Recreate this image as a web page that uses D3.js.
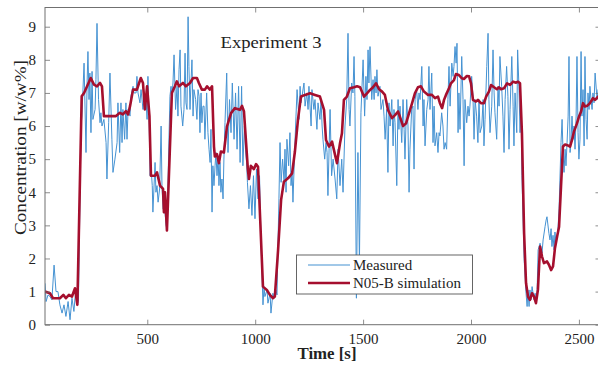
<!DOCTYPE html>
<html>
<head>
<meta charset="utf-8">
<script src="https://cdn.jsdelivr.net/npm/d3@7"></script>
<style>
  html, body { margin: 0; padding: 0; background: #fff; }
  svg { display: block; }
  text { font-family: "Liberation Serif", "DejaVu Serif", serif; fill: #222; }
</style>
</head>
<body>
<svg id="chart" width="598" height="367"></svg>
<script>
// ---- data ----
const measuredTime = [26,31,40,49,58,68,77,86,95,105,114,123,133,142,151,160,165,170,174,181,193,197,207,216,221,225,230,234,239,244,248,258,262,267,274,281,285,290,299,309,313,321,327,336,341,350,360,364,372,378,383,387,395,401,406,411,420,424,434,438,448,452,457,466,471,480,485,494,499,503,508,513,517,523,526,536,540,545,550,557,564,568,573,582,587,591,605,610,614,619,624,631,638,642,647,652,656,664,670,675,679,684,689,693,698,703,707,712,716,724,730,735,740,744,749,753,758,763,767,775,781,786,791,795,800,804,809,814,818,823,828,832,837,841,846,851,855,860,868,874,881,888,894,902,909,916,923,930,937,943,950,955,960,964,971,978,985,992,999,1006,1013,1020,1027,1036,1041,1045,1055,1059,1069,1073,1082,1087,1096,1101,1106,1110,1115,1120,1127,1134,1138,1143,1147,1155,1161,1166,1171,1175,1183,1189,1194,1203,1208,1212,1217,1226,1231,1239,1245,1249,1259,1263,1272,1277,1286,1291,1300,1305,1310,1314,1322,1328,1333,1337,1347,1354,1361,1370,1378,1384,1393,1401,1407,1416,1424,1430,1435,1439,1447,1453,1458,1462,1469,1476,1483,1490,1495,1500,1507,1513,1518,1523,1527,1532,1540,1546,1551,1555,1560,1564,1569,1578,1583,1592,1597,1602,1609,1615,1620,1625,1633,1639,1643,1648,1656,1662,1666,1671,1679,1685,1690,1694,1702,1708,1713,1717,1725,1731,1736,1741,1748,1754,1759,1764,1772,1778,1782,1787,1795,1801,1805,1810,1818,1824,1829,1833,1841,1847,1852,1856,1864,1870,1875,1880,1887,1893,1898,1903,1911,1917,1921,1926,1931,1935,1940,1944,1949,1957,1963,1968,1972,1980,1986,1991,1995,2003,2009,2014,2019,2026,2032,2037,2042,2050,2056,2060,2065,2073,2079,2083,2088,2096,2102,2107,2111,2119,2125,2130,2134,2142,2148,2153,2158,2165,2171,2176,2181,2189,2195,2199,2204,2212,2216,2222,2227,2232,2236,2246,2255,2260,2264,2269,2273,2278,2283,2292,2297,2301,2306,2311,2320,2329,2334,2343,2348,2352,2361,2366,2371,2375,2380,2385,2389,2394,2399,2403,2408,2417,2422,2426,2431,2436,2440,2445,2450,2454,2459,2463,2468,2473,2477,2482,2487,2491,2496,2500,2505,2510,2514,2519,2524,2528,2533,2538,2542,2547,2551,2556,2561,2565,2570,2575,2584,2589,2598];
const measuredConc = [1.25,0.7,0.9,0.85,0.75,1.8,1.0,1.0,0.6,0.35,0.6,0.25,0.7,0.15,0.8,0.4,0.8,1.0,0.6,0.7,6.0,6.3,7.9,5.2,7.3,8.25,6.8,7.6,5.8,7.65,6.2,6.5,7.4,9.1,6.8,6.1,6.4,6.0,6.2,5.5,4.4,6.1,7.6,5.6,4.6,5.0,5.5,6.7,5.2,6.7,5.5,6.5,5.6,6.7,5.6,6.5,6.3,6.9,7.2,7.0,7.0,7.5,7.0,6.7,7.1,6.5,6.8,6.8,6.2,7.5,6.3,4.5,4.8,4.2,3.4,4.9,4.0,4.2,3.7,4.1,6.0,4.2,3.5,3.4,3.0,2.9,6.9,7.2,6.9,7.3,8.15,6.5,7.2,6.3,7.7,8.3,6.6,6.0,6.5,8.2,6.7,6.5,9.3,7.8,6.5,7.4,8.0,6.3,7.1,6.8,6.2,7.1,6.9,5.8,7.0,6.1,6.6,6.6,5.6,7.0,5.8,5.3,4.9,5.9,3.4,4.8,4.2,4.8,5.2,4.5,5.1,4.2,4.9,4.0,4.4,3.8,5.0,6.1,7.6,5.2,6.8,5.8,7.3,5.6,7.0,5.3,7.2,4.9,7.2,4.8,6.0,5.3,4.9,4.3,3.5,4.2,3.3,4.5,3.2,4.7,3.8,4.5,2.5,0.6,1.15,0.85,1.05,0.65,0.95,0.35,0.95,0.8,1.05,0.9,2.56,3.8,5.5,4.3,5.0,4.3,5.3,4.0,5.6,4.8,5.8,4.2,4.6,3.7,5.3,6.3,7.1,6.2,7.2,6.7,6.9,7.3,6.6,7.0,6.5,7.2,6.0,7.1,6.5,6.8,5.9,6.7,6.2,6.8,6.0,5.6,5.0,5.5,5.2,3.9,6.5,4.5,5.0,4.4,3.8,5.3,4.2,5.0,4.0,6.0,6.8,8.8,6.5,6.0,7.3,7.0,8.1,6.9,0.8,5.2,1.9,6.4,7.2,8.0,6.3,7.5,6.8,8.3,7.3,8.4,6.8,7.4,6.8,7.5,7.0,7.7,6.9,7.2,6.5,6.8,6.3,5.6,6.5,4.6,6.7,6.0,6.8,5.4,6.5,6.1,4.2,6.8,5.9,6.6,5.5,6.8,5.9,5.0,6.8,6.0,4.0,5.3,6.5,6.6,4.7,6.8,7.1,6.5,7.0,6.8,7.8,6.0,6.8,5.4,6.5,6.8,7.8,6.5,7.6,5.5,6.6,5.4,5.8,5.2,5.8,5.7,6.4,6.0,5.3,5.5,5.3,6.8,7.8,6.6,7.9,7.5,7.8,8.4,7.9,8.5,5.8,7.0,5.9,8.1,6.8,4.8,6.8,6.1,6.6,6.3,6.6,7.5,6.9,5.6,6.8,6.3,5.5,6.8,5.8,6.0,6.8,5.4,6.2,7.8,8.8,6.8,5.8,6.6,8.3,7.0,6.4,5.6,7.2,6.6,8.1,7.2,6.3,5.2,6.8,7.8,6.9,5.3,6.5,8.1,6.6,5.4,7.0,5.8,8.3,7.2,5.8,6.5,4.5,2.0,0.95,0.55,1.05,0.55,1.05,0.75,1.15,0.75,0.95,0.65,0.95,2.26,2.46,2.16,2.56,2.96,3.16,3.26,2.76,2.56,2.9,2.36,2.7,2.26,2.8,2.46,2.7,2.9,3.5,5.5,6.2,5.3,4.6,5.3,4.8,5.5,6.3,8.1,5.2,5.5,6.3,5.6,6.0,5.3,6.3,8.1,5.8,5.0,5.6,8.25,6.3,7.1,5.4,8.1,6.2,5.6,7.0,6.5,7.2,6.8,6.5,7.0,6.7,7.6,6.8,7.1,6.9];

const simTime = [26,49,63,95,111,123,137,151,165,176,196,207,221,238,253,267,281,290,299,355,373,387,401,411,420,434,452,462,470,480,489,499,510,517,536,545,559,573,577,582,591,614,628,637,647,665,679,698,712,730,739,753,767,777,790,800,809,813,823,832,841,855,869,888,906,929,939,948,966,971,980,994,1004,1013,1036,1054,1068,1082,1091,1106,1120,1133,1152,1171,1184,1198,1212,1231,1254,1277,1300,1319,1328,1342,1356,1370,1379,1393,1402,1411,1425,1439,1458,1472,1486,1504,1518,1532,1546,1560,1574,1588,1601,1615,1634,1648,1662,1676,1685,1699,1713,1727,1740,1754,1768,1782,1801,1819,1833,1847,1856,1866,1875,1884,1898,1907,1921,1930,1944,1958,1967,1981,1991,2000,2009,2023,2032,2046,2060,2070,2083,2093,2107,2120,2130,2139,2153,2167,2181,2195,2209,2218,2227,2236,2246,2255,2264,2273,2283,2292,2301,2310,2320,2329,2338,2352,2361,2371,2380,2389,2399,2408,2417,2426,2436,2450,2459,2468,2477,2491,2500,2510,2519,2528,2538,2551,2565,2575,2589,2603];
const simConc = [1.0,0.95,0.8,0.8,0.9,0.8,0.9,0.85,1.1,0.6,6.9,7.0,7.2,7.45,7.25,7.2,7.3,7.2,6.3,6.3,6.4,6.35,6.45,6.35,6.6,7.1,7.1,7.3,7.45,7.3,6.5,7.2,6.3,4.5,4.5,4.6,4.2,4.1,3.4,4.0,2.85,7.0,7.2,7.35,7.2,7.3,7.2,7.3,7.45,7.45,7.3,7.1,7.1,7.2,7.1,7.2,5.38,5.08,5.15,4.88,5.23,5.2,5.98,6.39,6.54,6.49,6.61,6.44,4.7,4.4,4.8,4.7,4.85,4.77,1.15,1.05,0.9,0.8,0.85,2.25,3.77,4.32,4.42,4.57,5.23,6.18,6.89,6.94,6.99,6.94,6.89,6.49,5.58,5.38,5.53,5.13,4.88,5.48,5.78,6.79,6.89,7.14,7.17,7.2,7.17,6.89,6.99,7.09,7.17,7.29,7.11,7.04,6.94,6.49,6.24,6.33,6.44,6.18,6.0,6.08,6.39,6.69,6.99,7.17,7.2,7.04,6.94,6.94,6.84,6.89,6.69,6.54,6.79,6.94,7.14,7.29,7.39,7.57,7.54,7.44,7.42,7.51,7.5,7.29,6.79,6.74,6.79,6.69,6.69,6.89,7.04,7.24,7.17,7.11,7.17,7.11,7.14,7.29,7.24,7.34,7.31,7.34,7.29,5.78,2.76,1.25,0.85,0.75,0.95,0.85,0.65,1.05,2.36,2.06,1.86,1.91,1.81,1.65,1.76,2.31,2.66,2.96,4.17,5.38,5.44,5.41,5.38,5.58,5.83,6.08,6.28,6.44,6.69,6.59,6.61,6.69,6.84,6.79,6.89,6.9];

const xTicks = [500, 1000, 1500, 2000, 2500];
const yTicks = [0, 1, 2, 3, 4, 5, 6, 7, 8, 9];
const seriesNames = ["Measured", "N05-B simulation"];
const chartTitle = "Experiment 3";
const xLabel = "Time [s]";
const yLabel = "Concentration [w/w%]";

// ---- layout ----
const W = 598, H = 367;
const L = 45, R = 600.5, T = 7.5, B = 324.7;
const blue = "#4592d2", red = "#a50f2e", axisCol = "#707070";

const svg = d3.select("#chart");
const x = d3.scaleLinear().domain([26, 2600]).range([L, R]);
const y = d3.scaleLinear().domain([0, 9.58]).range([B, T]);

svg.append("defs").append("clipPath").attr("id", "clip")
  .append("rect").attr("x", L).attr("y", T).attr("width", R - L).attr("height", B - T);

svg.append("rect").attr("x", L).attr("y", T).attr("width", R - L).attr("height", B - T).attr("fill", "#fff");

const meas = measuredTime.map((t, i) => [t, measuredConc[i]]);
const sim = simTime.map((t, i) => [t, simConc[i]]);
const line = d3.line().x(d => x(d[0])).y(d => y(d[1]));

const g = svg.append("g").attr("clip-path", "url(#clip)");
g.append("path").datum(meas).attr("d", line)
  .attr("fill", "none").attr("stroke", blue).attr("stroke-width", 1).attr("stroke-linejoin", "round");
g.append("path").datum(sim).attr("d", line)
  .attr("fill", "none").attr("stroke", red).attr("stroke-width", 2.6).attr("stroke-linejoin", "round");

// axes (ticks inward, box)
const tickLen = 5;
const xAxisB = d3.axisBottom(x).tickValues(xTicks).tickSizeInner(-tickLen).tickSizeOuter(0).tickPadding(9).tickFormat(d3.format("d"));
const xAxisT = d3.axisTop(x).tickValues(xTicks).tickSizeInner(-tickLen).tickSizeOuter(0).tickFormat("");
const yAxisL = d3.axisLeft(y).tickValues(yTicks).tickSizeInner(-tickLen).tickSizeOuter(0).tickPadding(9).tickFormat(d3.format("d"));
const yAxisR = d3.axisRight(y).tickValues(yTicks).tickSizeInner(-tickLen).tickSizeOuter(0).tickFormat("");

function styleAxis(sel) {
  sel.select(".domain").remove();
  sel.selectAll(".tick line").attr("stroke", axisCol).attr("stroke-width", 0.8);
  sel.selectAll("text").attr("font-family", "Liberation Serif, DejaVu Serif, serif")
    .attr("font-size", 15).attr("fill", "#333");
}
svg.append("g").attr("transform", `translate(0,${B})`).call(xAxisB).call(styleAxis);
svg.append("g").attr("transform", `translate(0,${T})`).call(xAxisT).call(styleAxis);
svg.append("g").attr("transform", `translate(${L},0)`).call(yAxisL).call(styleAxis);
svg.append("g").attr("transform", `translate(${R},0)`).call(yAxisR).call(styleAxis);

svg.append("rect").attr("x", L).attr("y", T).attr("width", R - L).attr("height", B - T)
  .attr("fill", "none").attr("stroke", axisCol).attr("stroke-width", 1);

// title inside plot
svg.append("text").attr("x", 271).attr("y", 48).attr("text-anchor", "middle")
  .attr("font-size", 17).attr("fill", "#222")
  .attr("textLength", 101).attr("lengthAdjust", "spacingAndGlyphs").text(chartTitle);

// axis labels
svg.append("text").attr("x", 327).attr("y", 359).attr("text-anchor", "middle")
  .attr("font-size", 16).attr("font-weight", "bold").attr("fill", "#333")
  .attr("textLength", 59).attr("lengthAdjust", "spacingAndGlyphs").text(xLabel);
svg.append("text").attr("transform", "translate(26,147.5) rotate(-90)")
  .attr("text-anchor", "middle").attr("font-size", 17).attr("fill", "#333")
  .attr("textLength", 175).attr("lengthAdjust", "spacingAndGlyphs").text(yLabel);

// legend
const lg = svg.append("g");
lg.append("rect").attr("x", 296.5).attr("y", 255).attr("width", 176).attr("height", 39)
  .attr("fill", "#fff").attr("stroke", "#555").attr("stroke-width", 0.9);
const legendItems = [{ name: seriesNames[0], color: blue, w: 1.2, cy: 265 },
                     { name: seriesNames[1], color: red, w: 2.6, cy: 283 }];
legendItems.forEach(it => {
  lg.append("line").attr("x1", 308).attr("x2", 350).attr("y1", it.cy).attr("y2", it.cy)
    .attr("stroke", it.color).attr("stroke-width", it.w);
  lg.append("text").attr("x", 353).attr("y", it.cy).attr("dy", "0.35em")
    .attr("font-size", 15).attr("fill", "#333").text(it.name);
});
</script>
</body>
</html>
